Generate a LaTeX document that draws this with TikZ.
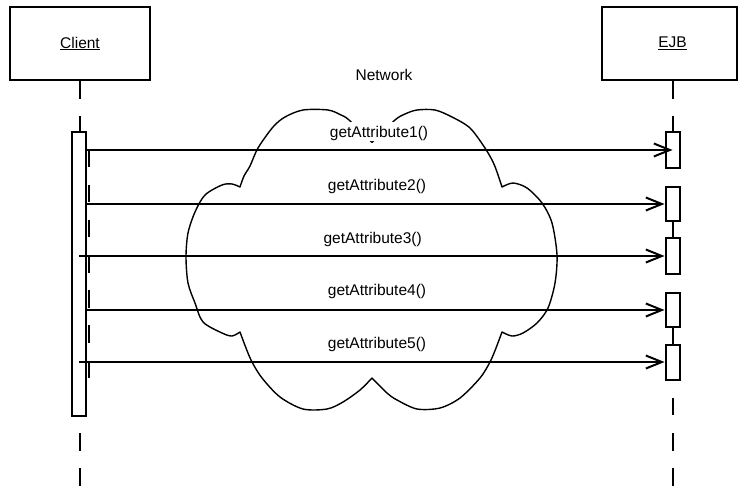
\documentclass[tikz,border=0pt]{standalone}
\usepackage{fontspec}
\setmainfont{Liberation Sans}
\usetikzlibrary{arrows.meta,backgrounds}
\begin{document}
\begin{tikzpicture}[x=1pt,y=-1pt,
  every node/.style={font=\fontsize{15.5pt}{18pt}\selectfont, inner sep=0pt},
  objbox/.style={draw, line width=2pt, fill=white, minimum height=73pt},
  actbox/.style={draw, line width=2pt, fill=white, minimum width=14pt},
  life/.style={line width=2pt, dash pattern=on 17.6pt off 17.6pt},
  msg/.style={line width=2pt, -{Straight Barb[length=16pt,width=13pt]}},
  cloudline/.style={line width=1.4pt, line join=round},
  msglabel/.style={fill=white, text height=14pt, text depth=3pt,
                   inner xsep=1pt, inner ysep=1pt, anchor=base}]
\useasboundingbox (0,0) rectangle (738,487);

% objects
\node[objbox, minimum width=140pt] (client) at (80,43.5) {\underline{Client}};
\node[objbox, minimum width=135pt] (ejb) at (669.5,43.5) {\hspace*{6pt}\underline{EJB}};

% activation bars
\node[actbox, minimum height=284pt] (c) at (79,274) {};
\node[actbox, minimum height=36pt] (e1) at (672.5,150) {};
\node[actbox, minimum height=34pt] (e2) at (672.5,204) {};
\node[actbox, minimum height=36pt] (e3) at (672.5,256) {};
\node[actbox, minimum height=34pt] (e4) at (672.5,310) {};
\node[actbox, minimum height=35pt] (e5) at (672.5,362) {};

% lifelines
\coordinate (cend) at (80,487);
\coordinate (eend) at (672.5,487);
\begin{pgfonlayer}{background}
  \draw[life] (client.south) -- (cend);
  \draw[life] (ejb.south -| e1.center) -- (eend);
\end{pgfonlayer}
\draw[life] ([shift={(1.5,18.4)}]c.north east) -- ([shift={(1.5,-36)}]c.south east);

% network cloud
\draw[cloudline]
  plot[smooth, tension=0.5] coordinates {(240,187) (244,176) (250,166) (258,148) (273,127) (285,117) (303,110) (328,110) (341,115) (349,120) (372,142.5)}
  -- plot[smooth, tension=0.5] coordinates {(372,142.5) (395,120) (405,114) (417,110) (435,110) (452,117) (470,128) (485,148) (493,162) (497,172) (502,187)}
  -- plot[smooth, tension=0.5] coordinates {(502,187) (513,183) (527,188) (542,203) (552,223) (557,255) (555,283) (548,308) (537,323) (523,333) (512,336) (502,332)}
  -- plot[smooth, tension=0.5] coordinates {(502,332) (496,348) (490,362) (480,378) (460,398) (440,408) (417,409) (397,400) (387,393) (372,378)}
  -- plot[smooth, tension=0.5] coordinates {(372,378) (360,390) (343,402) (327,409) (303,409) (280,397) (262,378) (252,362) (246,348) (240,332)}
  -- plot[smooth, tension=0.5] coordinates {(240,332) (232,336) (222,333) (203,322) (195,303) (188,283) (186,257) (188,233) (195,212) (205,195) (222,185) (232,184) (240,187)}
  -- cycle;
\node[anchor=base] (net) at (384,80.7) {Network};

% messages
\draw[msg] (c.east |- e1.center) -- (e1.center);
\draw[msg] (c.east |- e2.center) -- (e2.west);
\draw[msg] (c.center |- e3.center) -- (e3.west);
\draw[msg] (c.east |- e4.center) -- (e4.west);
\draw[msg] (c.center |- e5.center) -- (e5.west);

\node[msglabel] (l1) at (379,137) {getAttribute1()};
\node[msglabel] (l2) at (377,190) {getAttribute2()};
\node[msglabel] (l3) at (372.7,243.5) {getAttribute3()};
\node[msglabel] (l4) at (377,295) {getAttribute4()};
\node[msglabel] (l5) at (377,348.5) {getAttribute5()};
\end{tikzpicture}
\end{document}
